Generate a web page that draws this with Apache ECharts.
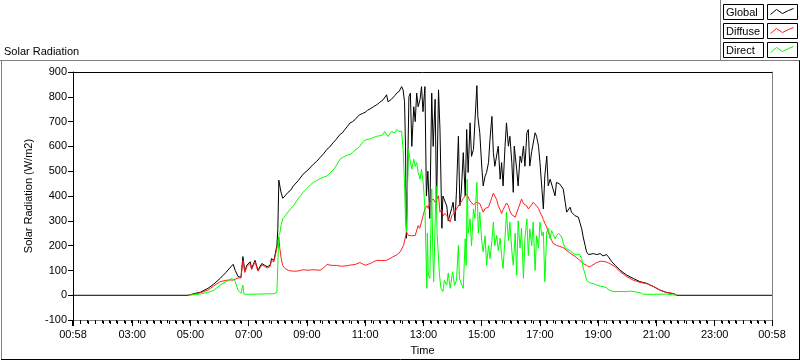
<!DOCTYPE html>
<html><head><meta charset="utf-8">
<script src="https://cdn.jsdelivr.net/npm/echarts@6/dist/echarts.min.js"></script>
<style>html,body{margin:0;padding:0;background:#fff}#c{width:800px;height:361px}</style>
</head><body><div id="c"></div>
<script>
// x values: minutes since 00:00 (axis spans 00:58 -> 00:58 next day)
const majorTicks = [58, 180, 300, 420, 540, 660, 780, 900, 1020, 1140, 1260, 1380, 1498];
const seriesNames = ['Global', 'Diffuse', 'Direct'];
const globalData = [[58,0],[295,0],[299,3],[310,8],[320,12],[336,28],[348,45],[361,68],[367,80],[373,92],[381,110],[388,125],[392,101],[398,76],[404,72],[408,156],[412,96],[416,121],[423,135],[426,108],[433,141],[439,101],[447,128],[453,121],[458,115],[464,121],[467,148],[472,141],[478,201],[480,268],[482,464],[486,420],[490,391],[495,401],[501,415],[507,425],[512,441],[522,462],[532,488],[542,505],[553,528],[560,540],[567,555],[574,570],[581,588],[587,598],[594,615],[600,628],[608,648],[613,655],[618,668],[623,680],[629,695],[634,700],[639,708],[644,720],[649,728],[655,733],[660,738],[665,746],[670,751],[677,760],[684,768],[690,778],[697,788],[700,795],[704,808],[707,780],[711,785],[714,790],[717,795],[721,805],[725,815],[730,822],[735,841],[738,828],[741,780],[743,600],[745,230],[747,450],[750,800],[753,815],[756,600],[760,760],[763,700],[766,815],[769,760],[773,790],[776,841],[779,740],[783,841],[786,400],[789,500],[793,310],[797,815],[800,600],[804,790],[807,361],[811,828],[814,668],[818,270],[820,400],[824,401],[828,360],[831,300],[835,308],[838,350],[841,375],[845,300],[848,420],[852,641],[855,361],[858,420],[862,575],[866,400],[869,668],[872,495],[876,695],[879,560],[883,588],[886,700],[890,845],[892,721],[896,655],[900,521],[903,441],[907,481],[910,495],[914,535],[917,628],[921,721],[924,575],[927,520],[931,521],[934,601],[938,468],[941,535],[944,441],[948,600],[951,695],[955,601],[958,641],[962,535],[965,415],[967,601],[972,508],[975,441],[979,561],[982,535],[986,601],[989,520],[993,655],[996,668],[999,521],[1003,580],[1006,588],[1010,655],[1013,641],[1017,601],[1020,535],[1024,428],[1027,348],[1030,481],[1034,561],[1037,441],[1041,468],[1044,461],[1047,428],[1051,401],[1054,455],[1058,450],[1061,448],[1065,440],[1068,428],[1072,375],[1075,335],[1082,355],[1085,335],[1092,321],[1099,315],[1102,295],[1106,268],[1109,235],[1113,201],[1116,175],[1120,164],[1123,168],[1130,168],[1137,164],[1144,168],[1150,159],[1157,164],[1161,155],[1168,135],[1175,121],[1185,101],[1199,81],[1212,68],[1226,55],[1240,48],[1254,35],[1267,21],[1281,11],[1295,7],[1302,0],[1498,0]];
const diffuseData = [[295,0],[299,2],[310,6],[320,10],[336,21],[348,38],[361,55],[373,60],[381,62],[388,61],[392,66],[398,70],[404,70],[408,140],[412,92],[416,115],[423,128],[426,104],[433,135],[439,97],[447,122],[453,116],[458,110],[464,116],[467,140],[472,135],[478,190],[480,215],[482,235],[484,190],[487,148],[490,120],[495,108],[502,100],[512,97],[522,98],[532,103],[542,101],[553,103],[567,101],[574,110],[581,124],[590,121],[601,120],[611,117],[622,119],[630,122],[639,124],[649,132],[655,126],[660,121],[670,128],[677,135],[684,141],[694,140],[704,141],[711,148],[717,155],[725,163],[732,175],[739,201],[745,255],[749,241],[755,240],[759,245],[763,241],[769,281],[772,270],[776,295],[779,320],[783,348],[787,361],[790,350],[793,375],[797,370],[800,388],[804,375],[807,368],[811,401],[814,335],[817,345],[821,321],[824,330],[828,321],[831,310],[835,295],[838,320],[841,321],[845,335],[848,348],[852,355],[855,370],[859,380],[862,390],[866,395],[869,408],[872,415],[876,380],[879,372],[883,365],[886,370],[890,375],[893,380],[896,370],[900,350],[903,335],[907,350],[910,345],[914,355],[917,361],[921,395],[924,412],[927,400],[931,385],[934,361],[938,345],[941,330],[944,345],[948,360],[951,372],[955,360],[958,340],[962,325],[965,321],[969,315],[972,308],[975,348],[979,370],[982,388],[986,370],[989,365],[993,360],[996,348],[1000,355],[1003,365],[1006,375],[1010,368],[1013,360],[1017,350],[1020,335],[1024,320],[1027,305],[1030,290],[1034,275],[1037,255],[1041,235],[1044,222],[1047,210],[1051,205],[1054,201],[1061,197],[1068,192],[1072,188],[1082,170],[1092,157],[1102,141],[1109,128],[1116,121],[1121,114],[1126,119],[1132,126],[1137,132],[1144,137],[1150,137],[1157,134],[1164,128],[1175,115],[1185,95],[1199,75],[1212,61],[1226,52],[1240,47],[1254,35],[1267,21],[1281,12],[1295,6],[1302,0]];
const directData = [[295,0],[299,1],[310,3],[320,5],[336,12],[348,20],[361,41],[373,55],[381,63],[386,68],[388,70],[392,56],[398,21],[404,8],[407,15],[408,41],[410,5],[420,4],[440,5],[460,6],[472,6],[478,12],[480,16],[482,241],[484,250],[487,285],[490,308],[495,320],[501,336],[507,350],[512,361],[517,375],[522,390],[527,402],[532,415],[537,425],[542,435],[547,445],[553,455],[560,462],[567,470],[574,476],[581,481],[587,492],[594,505],[601,525],[608,548],[613,555],[618,560],[623,565],[629,568],[634,575],[639,585],[644,592],[649,601],[656,620],[663,628],[670,630],[677,636],[684,641],[690,643],[697,648],[700,660],[704,655],[707,640],[711,645],[714,660],[717,661],[721,655],[725,668],[730,660],[735,661],[738,588],[741,450],[743,300],[745,255],[749,588],[752,550],[756,508],[760,548],[763,520],[766,535],[769,495],[773,468],[776,508],[780,441],[783,348],[787,28],[788,250],[790,81],[793,68],[797,428],[799,200],[801,55],[806,441],[808,250],[813,81],[816,28],[820,15],[823,60],[828,41],[831,90],[835,28],[840,95],[844,40],[848,60],[852,201],[854,70],[859,41],[862,28],[866,228],[868,120],[870,468],[872,250],[876,308],[879,200],[883,348],[886,310],[890,455],[893,250],[896,335],[900,220],[903,175],[907,240],[910,121],[914,200],[917,148],[921,220],[924,295],[927,200],[931,241],[934,180],[938,230],[941,160],[944,108],[948,230],[951,335],[955,220],[958,295],[962,180],[965,121],[969,250],[972,81],[975,300],[979,190],[982,270],[986,68],[989,230],[993,308],[996,160],[999,268],[1003,200],[1006,295],[1010,100],[1013,240],[1017,190],[1020,295],[1024,240],[1027,255],[1030,55],[1034,255],[1037,270],[1041,228],[1044,261],[1047,255],[1051,228],[1054,240],[1058,250],[1061,255],[1065,235],[1068,210],[1072,190],[1075,185],[1082,180],[1089,168],[1096,163],[1101,165],[1106,148],[1109,110],[1113,85],[1116,60],[1120,53],[1123,50],[1130,47],[1137,41],[1144,37],[1150,35],[1157,31],[1161,22],[1164,17],[1171,15],[1185,15],[1199,15],[1206,17],[1219,13],[1226,11],[1233,4],[1254,4],[1281,5],[1302,0]];
const colors = ['#000000', '#ff2020', '#00ff00'];

// minor tick slots: 8 per interval between labelled ticks
const minorSlots = [];
for (let i = 0; i < (majorTicks.length - 1) * 8 + 1; i++) minorSlots.push(String(i));
const minorTicks = [];
for (let i = 0; i < majorTicks.length - 1; i++) {
  const a = majorTicks[i], b = majorTicks[i + 1];
  for (let k = 1; k < 8; k++) minorTicks.push(a + (b - a) * k / 8);
}
function fmt(v) {
  const m = Math.round(v);
  const h = Math.floor(m / 60) % 24, mm = m % 60;
  return String(h).padStart(2, '0') + ':' + String(mm).padStart(2, '0');
}
const FONT = 'Liberation Sans';
const chart = echarts.init(document.getElementById('c'), null, {renderer: 'canvas'});

const option = {
  animation: false,
  backgroundColor: '#fff',
  textStyle: {fontFamily: FONT},
  grid: {left: 73, right: 28, top: 72, bottom: 39, containLabel: false},
  xAxis: [
    {type: 'value', min: 58, max: 1498, position: 'bottom',
     name: 'Time', nameLocation: 'middle', nameGap: 24,
     nameTextStyle: {color: '#000', fontSize: 11, fontFamily: FONT},
     axisLine: {show: true, onZero: false, lineStyle: {color: '#808080', width: 1}},
     axisTick: {show: true, customValues: majorTicks, length: 6, lineStyle: {color: '#000'}},
     axisLabel: {show: true, customValues: majorTicks, formatter: fmt, color: '#000', fontSize: 11, margin: 9, fontFamily: FONT},
     splitLine: {show: false}},
    {type: 'value', min: 58, max: 1498, position: 'top',
     axisLine: {show: true, onZero: false, lineStyle: {color: '#000'}},
     axisTick: {show: false}, axisLabel: {show: false}, splitLine: {show: false}},
    {type: 'category', data: minorSlots, boundaryGap: false, position: 'bottom', offset: 0,
     axisLine: {show: false, onZero: false},
     axisTick: {show: true, interval: 0, length: 3, lineStyle: {color: '#000', width: 1}},
     axisLabel: {show: false}, splitLine: {show: false}}
  ],
  yAxis: [
    {type: 'value', min: -100, max: 900, interval: 100, position: 'left',
     name: 'Solar Radiation (W/m2)', nameLocation: 'middle', nameGap: 31,
     nameTextStyle: {color: '#000', fontSize: 11, fontFamily: FONT},
     axisLine: {show: true, onZero: false, lineStyle: {color: '#000'}},
     axisTick: {show: true, length: 5, lineStyle: {color: '#000'}},
     axisLabel: {color: '#000', fontSize: 11, margin: 6, fontFamily: FONT},
     splitLine: {show: false}},
    {type: 'value', min: -100, max: 900, interval: 100, position: 'right',
     axisLine: {show: true, onZero: false, lineStyle: {color: '#808080'}},
     axisTick: {show: false}, axisLabel: {show: false}, splitLine: {show: false}}
  ],
  series: [
    {name: 'Global', type: 'line', data: globalData, showSymbol: false, lineStyle: {color: colors[0], width: 1}, itemStyle: {color: colors[0]}, z: 2},
    {name: 'Diffuse', type: 'line', data: diffuseData, showSymbol: false, lineStyle: {color: colors[1], width: 1}, itemStyle: {color: colors[1]}, z: 3},
    {name: 'Direct', type: 'line', data: directData, showSymbol: false, lineStyle: {color: colors[2], width: 1}, itemStyle: {color: colors[2]}, z: 4}
  ]
};
chart.setOption(option);

// decorations: frame, title, legend, and minor ticks placed through the axis scale
const els = [
  {type: 'line', shape: {x1: 0, y1: 60.5, x2: 800, y2: 60.5}, style: {stroke: '#808080', lineWidth: 1}},
  {type: 'line', shape: {x1: 1.5, y1: 60.5, x2: 1.5, y2: 359.5}, style: {stroke: '#808080', lineWidth: 1}},
  {type: 'line', shape: {x1: 1, y1: 359.5, x2: 800, y2: 359.5}, style: {stroke: '#000', lineWidth: 1}},
  {type: 'line', shape: {x1: 799.5, y1: 60.5, x2: 799.5, y2: 360}, style: {stroke: '#000', lineWidth: 1}},
  {type: 'line', shape: {x1: 720.5, y1: 0, x2: 720.5, y2: 61}, style: {stroke: '#808080', lineWidth: 1}},
  {type: 'text', x: 4, y: 52, style: {text: 'Solar Radiation', font: '11px ' + FONT, fill: '#000', verticalAlign: 'middle'}}
];
const zig = [[3,10],[9,5],[15,9],[21,6],[26,4]];
seriesNames.forEach((n, i) => {
  const y0 = 4.5 + i * 19;
  els.push({type: 'rect', shape: {x: 723.5, y: y0, width: 40, height: 15}, style: {fill: '#fff', stroke: '#000', lineWidth: 1}});
  els.push({type: 'text', x: 726, y: y0 + 8, style: {text: n, font: '11px ' + FONT, fill: '#000', verticalAlign: 'middle'}});
  els.push({type: 'rect', shape: {x: 767.5, y: y0, width: 30, height: 15}, style: {fill: '#fff', stroke: '#000', lineWidth: 1}});
  els.push({type: 'polyline', shape: {points: zig.map(p => [767.5 + p[0], y0 + p[1]])}, style: {stroke: colors[i], lineWidth: 1, fill: null}});
});
const yBase = Number(chart.convertToPixel({yAxisIndex: 0}, -100));
minorTicks.forEach(v => {
  const px = Number(chart.convertToPixel({xAxisIndex: 0}, v));
  if (isFinite(px) && isFinite(yBase)) {
    const x = Math.round(px);
    els.push({type: 'rect', z: 100, shape: {x: x, y: Math.round(yBase) + 1, width: 1, height: 3}, style: {fill: '#000'}});
  }
});
const x0 = Number(chart.convertToPixel({xAxisIndex: 0}, majorTicks[0]));
if (isFinite(x0)) els.push({type: 'rect', z: 100, shape: {x: Math.round(x0) - 1, y: Math.round(yBase), width: 2, height: 6}, style: {fill: '#000'}});
chart.setOption({graphic: {elements: els}});
</script></body></html>
